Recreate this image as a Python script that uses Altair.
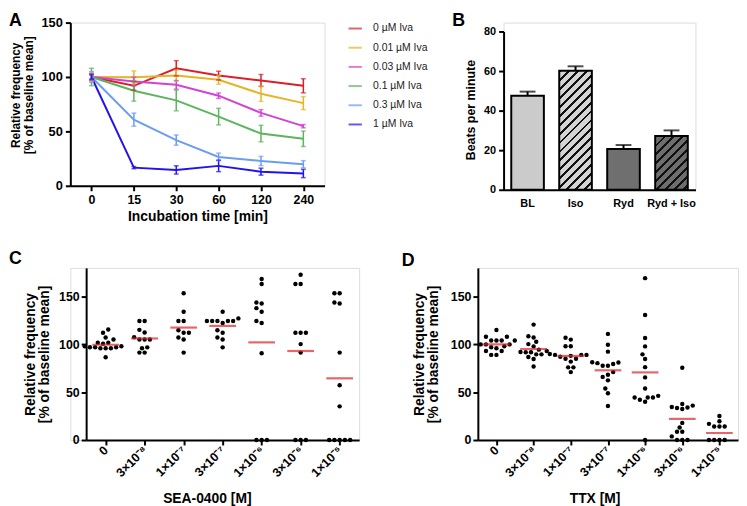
import math
import altair as alt
import pandas as pd

FONT = "Liberation Sans"

# ---------------- Panel A : frequency vs incubation time ----------------
times = ["0", "15", "30", "60", "120", "240"]
series_a = ["0 µM Iva", "0.01 µM Iva", "0.03 µM Iva", "0.1 µM Iva", "0.3 µM Iva", "1 µM Iva"]
colors_a = ["#DA2027", "#E6B426", "#D043D3", "#5BB55D", "#6D9CF4", "#2312F0"]
mean_0 = [100, 91.9, 108.0, 101.3, 96.8, 91.9]
err_0 = [3, 4, 7, 4, 5.5, 6.5]
mean_001 = [100, 99.8, 101.3, 97.4, 84.6, 76.0]
err_001 = [4, 5.8, 5, 4, 7, 6]
mean_003 = [100, 95.8, 92.8, 82.8, 67.0, 54.8]
err_003 = [3, 4, 4, 2.5, 3, 1.5]
mean_01 = [100, 87.3, 78.5, 63.6, 48.0, 43.2]
err_01 = [8, 9.5, 9.6, 7.6, 7.6, 7.1]
mean_03 = [100, 60.8, 42.0, 26.5, 22.8, 19.8]
err_03 = [5, 6, 4.7, 3.5, 4.2, 3.3]
mean_1 = [100, 16.7, 14.6, 18.3, 13.0, 11.3]
err_1 = [2, 1, 3.8, 5.3, 3.2, 3.8]

# ---------------- Panel B : beats per minute ----------------
b_cats = ["BL", "Iso", "Ryd", "Ryd + Iso"]
b_vals = [47.5, 60.2, 20.6, 27.2]
b_errs = [2.1, 2.2, 2.0, 2.8]
b_fills = ["#CBCBCB", "#D4D4D4", "#6F6F6F", "#6E6E6E"]
b_hatched = [False, True, False, True]

# ---------------- Panel C : SEA-0400 ----------------
conc_labels = ["0", "3×10⁻⁸", "1×10⁻⁷", "3×10⁻⁷", "1×10⁻⁶", "3×10⁻⁶", "1×10⁻⁵"]
c0 = [115.5, 112.1, 107.2, 105.2, 101.7, 101.7, 100.7, 98, 97, 97, 96, 96, 96, 97, 98, 86.6]
c1 = [124.5, 124.5, 115.2, 112.4, 107.6, 105.2, 105.2, 105.2, 96.9, 96.0, 91.4, 91.4]
c2 = [153.4, 134.1, 124.5, 124.5, 114.8, 112.1, 112.1, 107.2, 105.2, 91.4]
c3 = [134.1, 127.2, 124.5, 124.5, 124.5, 124.5, 124.5, 122.4, 114.8, 112.1, 107.2, 105.2, 96.9]
c4 = [168.3, 163.1, 143.8, 142.8, 137.9, 134.1, 124.5, 122.4, 90.7, 0, 0, 0]
c5 = [172.8, 163.1, 163.1, 112.1, 112.1, 112.1, 100.3, 91.4, 0, 0, 0]
c6 = [153.4, 153.4, 143.8, 142.8, 91.4, 57.2, 35.2, 0, 0, 0, 0, 0]
means_c = [99.6, 106.2, 117.6, 119.3, 102.1, 93.1, 64.5]

# ---------------- Panel D : TTX ----------------
d0 = [115, 108, 108, 104, 104, 104, 104, 100, 100, 100, 98, 97, 96, 93, 93, 89, 89]
d1 = [120.7, 108.6, 107.2, 102.7, 100.3, 97.9, 94.5, 93, 92, 91.7, 91.7, 89.6, 89.6, 86.9, 84.8, 76.9]
d2 = [107, 105, 98, 98, 90, 89, 89, 89, 88, 87, 85, 85, 82, 76, 76, 71]
d3 = [111, 99.6, 92.4, 81.4, 81, 80.4, 79.5, 77.6, 77.6, 71, 68.3, 66, 62.4, 53.8, 48.9, 35.5]
d4 = [169.3, 130.7, 106.6, 97.9, 89.6, 84.8, 76.2, 65.5, 53.8, 46.2, 44.5, 44.5, 44.5, 42.1, 40, 0]
d5 = [75.5, 37.6, 36, 34.5, 34, 33.4, 32.4, 17.9, 13.1, 8.6, 8.6, 3.8, 0, 0, 0]
d6 = [25.2, 19.7, 16.9, 14.1, 14.1, 14.1, 0, 0, 0, 0]
means_d = [100.0, 95.2, 87.9, 72.9, 70.7, 22.1, 7.3]

# ---------------- layout ----------------
A_W, A_H = 257, 165
B_W, B_H, B_TOP = 194, 169, 9
C_W, D_W, CD_H = 276, 263, 174
C_SHIFT = 16          # C plot starts 16 px right of A plot
CD_MAX = 180
ROW1_SPACING = 181
ROW2_SPACING = 120
ROWS_GAP = 25
DOT_D = 5.3
MEAN_RED = "#E0222A"


def axis_style(**kw):
    base = dict(domainColor="black", domainWidth=2, tickColor="black", tickWidth=2,
                tickSize=5, labelFont=FONT, labelFontWeight="bold", labelFontSize=12.5,
                labelColor="black", titleFont=FONT, titleFontWeight="bold",
                titleFontSize=14, titleColor="black", grid=False, labelPadding=3,
                labelFlush=False)
    base.update(kw)
    return alt.Axis(**base)


def letter(ch, dx, dy):
    return alt.Chart(pd.DataFrame({"t": [ch]})).mark_text(
        font=FONT, fontWeight="bold", fontSize=18, align="left",
        baseline="alphabetic", color="black"
    ).encode(text="t:N", x=alt.value(dx), y=alt.value(dy))


# ---------------- Panel A chart ----------------
means_a = [mean_0, mean_001, mean_003, mean_01, mean_03, mean_1]
errs_a = [err_0, err_001, err_003, err_01, err_03, err_1]
rows = []
for s, ms, es in zip(series_a, means_a, errs_a):
    for t, m, e in zip(times, ms, es):
        rows.append({"series": s, "time": t, "mean": m, "lo": m - e, "hi": m + e})
dfa = pd.DataFrame(rows)

xA = alt.X("time:N", sort=times, scale=alt.Scale(type="point", padding=0.5),
           axis=axis_style(title="Incubation time [min]", labelAngle=0,
                           titleY=35, titleBaseline="alphabetic"))
scA = alt.Scale(domain=[0, 150], nice=False)
axA = axis_style(values=[0, 50, 100, 150], labelFontSize=13,
                 title=["Relative frequency", "[% of baseline mean]"],
                 titleFontSize=12, titleX=-51, titleY=73, titleAlign="center",
                 titleBaseline="alphabetic", titleLineHeight=13)
legA = alt.Legend(orient="none", legendX=280, legendY=-2, title=None,
                  symbolType="stroke", symbolSize=180, symbolStrokeWidth=2,
                  labelFont=FONT, labelFontSize=10.5, labelColor="#222222",
                  rowPadding=5.4, labelOffset=10, padding=0)
colA = alt.Color("series:N", sort=series_a,
                 scale=alt.Scale(domain=series_a, range=colors_a), legend=legA)

baseA = alt.Chart(dfa)
a_rules = baseA.mark_rule(strokeWidth=1.5).encode(
    x=xA, y=alt.Y("lo:Q", scale=scA, axis=axA), y2="hi:Q", color=colA)
a_lo = baseA.mark_tick(thickness=1.5, size=5, orient="horizontal").encode(
    x=xA, y=alt.Y("lo:Q", scale=scA, axis=axA), color=colA)
a_hi = baseA.mark_tick(thickness=1.5, size=5, orient="horizontal").encode(
    x=xA, y=alt.Y("hi:Q", scale=scA, axis=axA), color=colA)
a_line = baseA.mark_line(strokeWidth=2).encode(
    x=xA, y=alt.Y("mean:Q", scale=scA, axis=axA), color=colA)
panelA = alt.layer(a_line, a_rules, a_lo, a_hi, letter("A", -62, 3)).properties(
    width=A_W, height=A_H)

# ---------------- Panel B chart ----------------
B_PI, B_PO = 0.32, 0.16
b_step = B_W / (len(b_cats) - B_PI + 2 * B_PO)
b_bw = b_step * (1 - B_PI)
b_px = (B_H - B_TOP) / 80.0


def hatch_fill(bg, w, h, period=9.0, frac=0.32, ink="#111111"):
    k = (w + h) / (w * w + h * h)
    n = (w + h) / period
    stops = []
    for i in range(int(math.ceil(n)) + 1):
        a, b, c = i / n, (i + frac) / n, (i + 1) / n
        if a >= 1:
            break
        stops.append(alt.GradientStop(offset=a, color=ink))
        stops.append(alt.GradientStop(offset=min(b, 1), color=ink))
        if b < 1:
            stops.append(alt.GradientStop(offset=b, color=bg))
            stops.append(alt.GradientStop(offset=min(c, 1), color=bg))
    return alt.LinearGradient(gradient="linear", stops=stops,
                              x1=0, y1=0, x2=k * w, y2=k * h)


dfb = pd.DataFrame({"cat": b_cats, "val": b_vals, "err": b_errs})
dfb["top"] = dfb["val"] + dfb["err"]
xB = alt.X("cat:N", sort=b_cats,
           scale=alt.Scale(paddingInner=B_PI, paddingOuter=B_PO),
           axis=axis_style(title=None, labelAngle=0, ticks=False, labelPadding=8,
                           labelFontSize=11))
scB = alt.Scale(domain=[0, 80], range=[B_H, B_TOP], nice=False)
axB = axis_style(values=[0, 20, 40, 60, 80], labelFontSize=11, labelPadding=3,
                 title="Beats per minute", titleFontSize=12.5, titleX=-29,
                 titleY=88, titleAlign="center", titleBaseline="alphabetic")
baseB = alt.Chart(dfb)
b_layers = []
for cat, val, fill, hatched in zip(b_cats, b_vals, b_fills, b_hatched):
    f = hatch_fill(fill, b_bw, val * b_px) if hatched else fill
    b_layers.append(
        baseB.transform_filter(alt.datum.cat == cat).mark_bar(
            fill=f, stroke="black", strokeWidth=2
        ).encode(x=xB, y=alt.Y("val:Q", scale=scB, axis=axB))
    )
b_rule = baseB.mark_rule(strokeWidth=2, color="black").encode(
    x=xB, y=alt.Y("val:Q", scale=scB, axis=axB), y2="top:Q")
b_cap = baseB.mark_tick(thickness=2, size=16, color="black", orient="horizontal").encode(
    x=xB, y=alt.Y("top:Q", scale=scB, axis=axB))
panelB = alt.layer(b_rule, b_cap, *b_layers, letter("B", -52, 3)).properties(
    width=B_W, height=B_H)


# ---------------- Panels C and D ----------------
def swarm(vals, px_per_unit, d):
    ys = [v * px_per_unit for v in vals]
    order = sorted(range(len(vals)), key=lambda i: ys[i])
    cands = [0.0]
    for j in range(1, 24):
        cands += [-j * d / 2, j * d / 2]
    placed, offs = [], [0.0] * len(vals)
    for i in order:
        for c in cands:
            if all((c - px) ** 2 + (ys[i] - py) ** 2 >= (0.92 * d) ** 2 for px, py in placed):
                offs[i] = c
                placed.append((c, ys[i]))
                break
    return offs


def dot_panel(groups, means, width, shift, xtitle, title_x, ytitle_x, ch, ch_dx, ch_dy):
    n = len(conc_labels)
    step = width / n
    ppu = CD_H / CD_MAX
    rows = []
    for i, vals in enumerate(groups):
        for v, o in zip(vals, swarm(vals, ppu, DOT_D)):
            rows.append({"pos": i + o / step, "val": v})
    df = pd.DataFrame(rows)
    dm = pd.DataFrame({"pos": list(range(n)), "val": means})
    expr = "[" + ",".join("'" + l + "'" for l in conc_labels) + "][datum.value]"
    x = alt.X("pos:Q",
              scale=alt.Scale(domain=[-0.5, n - 0.5], range=[shift, shift + width],
                              nice=False, zero=False),
              axis=axis_style(values=list(range(n)), labelExpr=expr, labelAngle=315,
                              labelAlign="right", labelBaseline="middle",
                              labelFontSize=12.5, labelOverlap=False, labelPadding=3,
                              title=xtitle, titleX=title_x, titleY=63,
                              titleAlign="center", titleBaseline="alphabetic"))
    yaxis_kw = dict(values=[0, 50, 100, 150], labelFontSize=12.5, labelPadding=2,
                    title=["Relative frequency", "[% of baseline mean]"],
                    titleFontSize=14, titleX=ytitle_x, titleY=CD_H / 2,
                    titleAlign="center", titleBaseline="alphabetic",
                    titleLineHeight=14)
    if shift:
        yaxis_kw["offset"] = -shift
    y = alt.Y("val:Q", scale=alt.Scale(domain=[0, CD_MAX], nice=False),
              axis=axis_style(**yaxis_kw))
    dots = alt.Chart(df).mark_circle(size=20, color="black", opacity=1).encode(x=x, y=y)
    bars = alt.Chart(dm).mark_tick(orient="horizontal", size=27, thickness=2.2,
                                   color=MEAN_RED).encode(x=x, y=y)
    return alt.layer(dots, bars, letter(ch, ch_dx, ch_dy)).properties(
        width=width + shift, height=CD_H)


panelC = dot_panel([c0, c1, c2, c3, c4, c5, c6], means_c, C_W, C_SHIFT, "SEA-0400 [M]",
                   138, -52, "C", -62, -4)
panelD = dot_panel([d0, d1, d2, d3, d4, d5, d6], means_d, D_W, 0, "TTX [M]",
                   118, -55, "D", -77, -2)

row1 = alt.hconcat(panelA, panelB, spacing=ROW1_SPACING, bounds="flush")
row2 = alt.hconcat(panelC, panelD, spacing=ROW2_SPACING, bounds="flush")
chart = alt.vconcat(row1, row2, spacing=ROWS_GAP).properties(
    padding=0, background="white"
).configure_view(stroke=None).configure(font=FONT)

chart.save("out.html", embed_options={"renderer": "svg", "actions": False})
